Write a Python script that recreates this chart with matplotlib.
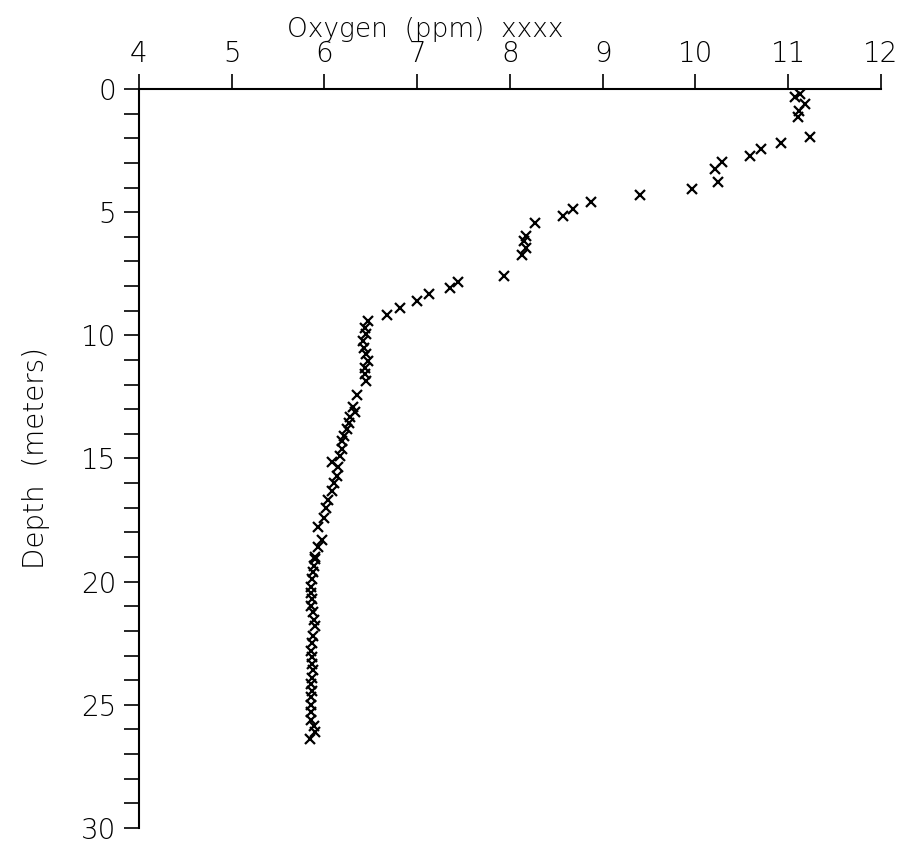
import numpy as np
import matplotlib
matplotlib.use("Agg")
import matplotlib.pyplot as plt
from matplotlib.ticker import MultipleLocator

# dissolved oxygen profile: oxygen (ppm) vs depth (m)
oxygen = [
    11.07, 11.13, 11.18, 11.12, 11.11, 11.24, 10.92, 10.71, 10.59, 10.29,
    10.21, 10.24, 9.96, 9.40, 8.87, 8.68, 8.57, 8.27, 8.17, 8.15,
    8.17, 8.13, 7.94, 7.44, 7.35, 7.13, 7.00, 6.81, 6.67,
    6.47, 6.44, 6.45, 6.42, 6.43, 6.45, 6.47, 6.44, 6.44, 6.45,
    6.35, 6.31, 6.33, 6.28, 6.27, 6.24, 6.21, 6.19, 6.19, 6.17,
    6.08, 6.15, 6.14, 6.10, 6.08, 6.04, 6.02, 5.99, 5.93, 5.97,
    5.93, 5.90,
    5.90, 5.89, 5.88, 5.87, 5.86, 5.86, 5.87, 5.86, 5.88, 5.89,
    5.90, 5.88, 5.87, 5.86, 5.87, 5.87, 5.88, 5.87, 5.86, 5.87,
    5.86, 5.86, 5.86, 5.85, 5.89, 5.90, 5.84,
]
depth = [
    0.32, 0.20, 0.61, 0.89, 1.14, 1.95, 2.19, 2.44, 2.72, 2.96,
    3.25, 3.78, 4.06, 4.30, 4.59, 4.87, 5.16, 5.44, 5.97, 6.17,
    6.46, 6.74, 7.59, 7.84, 8.08, 8.32, 8.61, 8.89, 9.18,
    9.42, 9.70, 9.95, 10.23, 10.52, 10.76, 11.04, 11.33, 11.57, 11.86,
    12.42, 12.91, 13.10, 13.30, 13.55, 13.80, 14.10, 14.30, 14.60, 14.90,
    15.15, 15.35, 15.70, 16.00, 16.30, 16.70, 17.00, 17.40, 17.80, 18.30,
    18.60, 19.00,
    19.10, 19.35, 19.60, 19.90, 20.20, 20.45, 20.70, 21.00, 21.25, 21.55,
    21.80, 22.20, 22.50, 22.80, 23.05, 23.35, 23.60, 23.90, 24.15, 24.45,
    24.70, 25.00, 25.30, 25.60, 25.85, 26.10, 26.40,
]

x_ticks = [4, 5, 6, 7, 8, 9, 10, 11, 12]
y_ticks = [0, 5, 10, 15, 20, 25, 30]

plt.rcParams['font.family'] = ['DejaVu Sans']
plt.rcParams['font.weight'] = 'light'
plt.rcParams['axes.labelweight'] = 'light'

fig = plt.figure(figsize=(9, 8.46), dpi=100)
ax = fig.add_axes([0.1544, 0.0213, 0.8244, 0.8735])

ax.plot(oxygen, depth, linestyle='none', marker='x', color='black',
        markersize=6.5, markeredgewidth=1.6)

ax.set_xlim(4, 12)
ax.set_ylim(30, 0)
ax.xaxis.tick_top()
ax.set_xticks(x_ticks)
ax.set_yticks(y_ticks)
ax.yaxis.set_minor_locator(MultipleLocator(1))

for side in ['right', 'bottom']:
    ax.spines[side].set_visible(False)
for side in ['top', 'left']:
    ax.spines[side].set_linewidth(1.5)

ax.tick_params(axis='x', which='major', direction='out', length=11, width=1.2,
               labelsize=20, pad=4)
ax.tick_params(axis='y', which='both', direction='out', length=11, width=1.2,
               labelsize=20, pad=5.5)

ax.set_ylabel('Depth  (meters)', fontsize=20, labelpad=22)
fig.text(0.473, 0.965, 'Oxygen  (ppm)  xxxx', fontsize=19,
         ha='center', va='center')

fig.savefig('out.png', dpi=100)
